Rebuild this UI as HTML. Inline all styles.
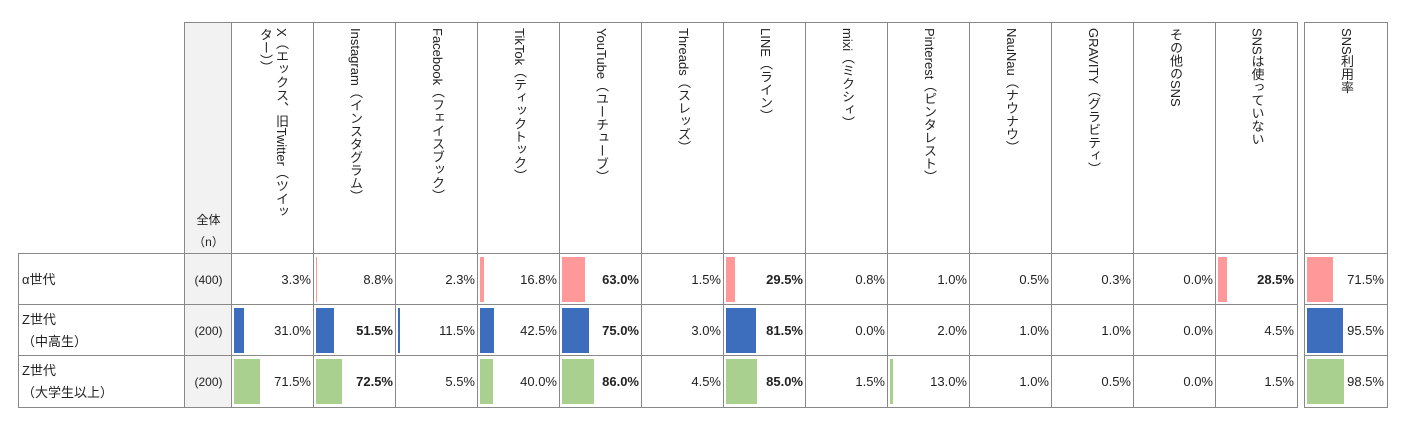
<!DOCTYPE html>
<html><head><meta charset="utf-8">
<style>
body{margin:0;width:1405px;height:428px;background:#fff;position:relative;overflow:hidden;font-family:"Liberation Sans","Noto Sans CJK JP",sans-serif;font-size:13px;color:#222}
.c{position:absolute;box-sizing:border-box}
.hd{writing-mode:vertical-rl;position:absolute;top:5px;left:50%;transform:translateX(-50%);font-size:13px;line-height:16px;white-space:pre;letter-spacing:0}
.v{position:absolute;right:3px;top:0;bottom:0;display:flex;align-items:center}
.bar{position:absolute}
</style></head><body>
<div id="t"></div>
<script>
const cols=["X（エックス、旧Twitter（ツイッ\nター））","Instagram（インスタグラム）","Facebook（フェイスブック）","TikTok（ティックトック）","YouTube（ユーチューブ）","Threads（スレッズ）","LINE（ライン）","mixi（ミクシィ）","Pinterest（ピンタレスト）","NauNau（ナウナウ）","GRAVITY（グラビティ）","その他のSNS","SNSは使っていない","SNS利用率"];
const rowLabels=["α世代","Z世代\n（中高生）","Z世代\n（大学生以上）"];
const nValues=["(400)","(200)","(200)"];
const alphaVals=[3.3,8.8,2.3,16.8,63.0,1.5,29.5,0.8,1.0,0.5,0.3,0.0,28.5,71.5];
const zHighVals=[31.0,51.5,11.5,42.5,75.0,3.0,81.5,0.0,2.0,1.0,1.0,0.0,4.5,95.5];
const zUnivVals=[71.5,72.5,5.5,40.0,86.0,4.5,85.0,1.5,13.0,1.0,0.5,0.0,1.5,98.5];
const alphaBold=[0,0,0,0,1,0,1,0,0,0,0,0,1,0];
const zHighBold=[0,1,0,0,1,0,1,0,0,0,0,0,0,0];
const zUnivBold=[0,1,0,0,1,0,1,0,0,0,0,0,0,0];
const series=[alphaVals,zHighVals,zUnivVals];
const bolds=[alphaBold,zHighBold,zUnivBold];
const colors=["#ff9999","#3d6ebd","#a9d08e"];
const t=document.getElementById('t');
const B='1px solid #888';
const rowTop=[253,304,355],rowH=[51,51,52];
const colX=i=>i<13?231+i*82:1304;
const barScale=v=>Math.max(0,v*0.4-2.6);
function div(x,y,w,h,name){const d=document.createElement('div');d.className='c';
d.style.left=x+'px';d.style.top=y+'px';d.style.width=w+'px';d.style.height=h+'px';


t.appendChild(d);return d;}
let nh=div(184,22,48,232,'n-header');nh.style.background='#f2f2f2';nh.style.border=B;nh.style.borderRight='none';
nh.innerHTML='<div style="position:absolute;top:186px;width:100%;text-align:center;font-size:12px;line-height:22px">全体<br>（n）</div>';
cols.forEach((c,i)=>{const w=i<13?83:84;const h=div(colX(i),22,w,232,'column-header');
h.style.border=B;if(i<12)h.style.borderRight='none';
const s=document.createElement('div');s.className='hd';s.textContent=c;h.appendChild(s);});
series.forEach((vals,r)=>{
 const y=rowTop[r],hh=rowH[r]+1;
 const lab=div(18,y,167,hh,'row-label');lab.style.border=B;lab.style.borderRight='none';if(r<2)lab.style.borderBottom='none';
 lab.innerHTML='<div style="position:absolute;left:3px;top:0;bottom:0;display:flex;align-items:center;white-space:pre;line-height:22px">'+rowLabels[r]+'</div>';
 const n=div(184,y,48,hh,'row-n');n.style.background='#f2f2f2';n.style.border=B;n.style.borderRight='none';if(r<2)n.style.borderBottom='none';
 n.innerHTML='<div style="position:absolute;width:100%;top:0;bottom:0;display:flex;align-items:center;justify-content:center;font-size:12px">'+nValues[r]+'</div>';
 vals.forEach((v,i)=>{const w=i<13?83:84;const cell=div(colX(i),y,w,hh,'value-cell');
  cell.style.border=B;if(i<12)cell.style.borderRight='none';if(r<2)cell.style.borderBottom='none';
  const b=document.createElement('div');b.className='bar';
  
  
  b.style.left='2px';b.style.top='3px';b.style.bottom='3px';b.style.width=barScale(v)+'px';b.style.background=colors[r];cell.appendChild(b);
  const s=document.createElement('div');s.className='v';s.textContent=v.toFixed(1)+'%';
  if(bolds[r][i])s.style.fontWeight='bold';cell.appendChild(s);});
});
</script>
</body></html>
